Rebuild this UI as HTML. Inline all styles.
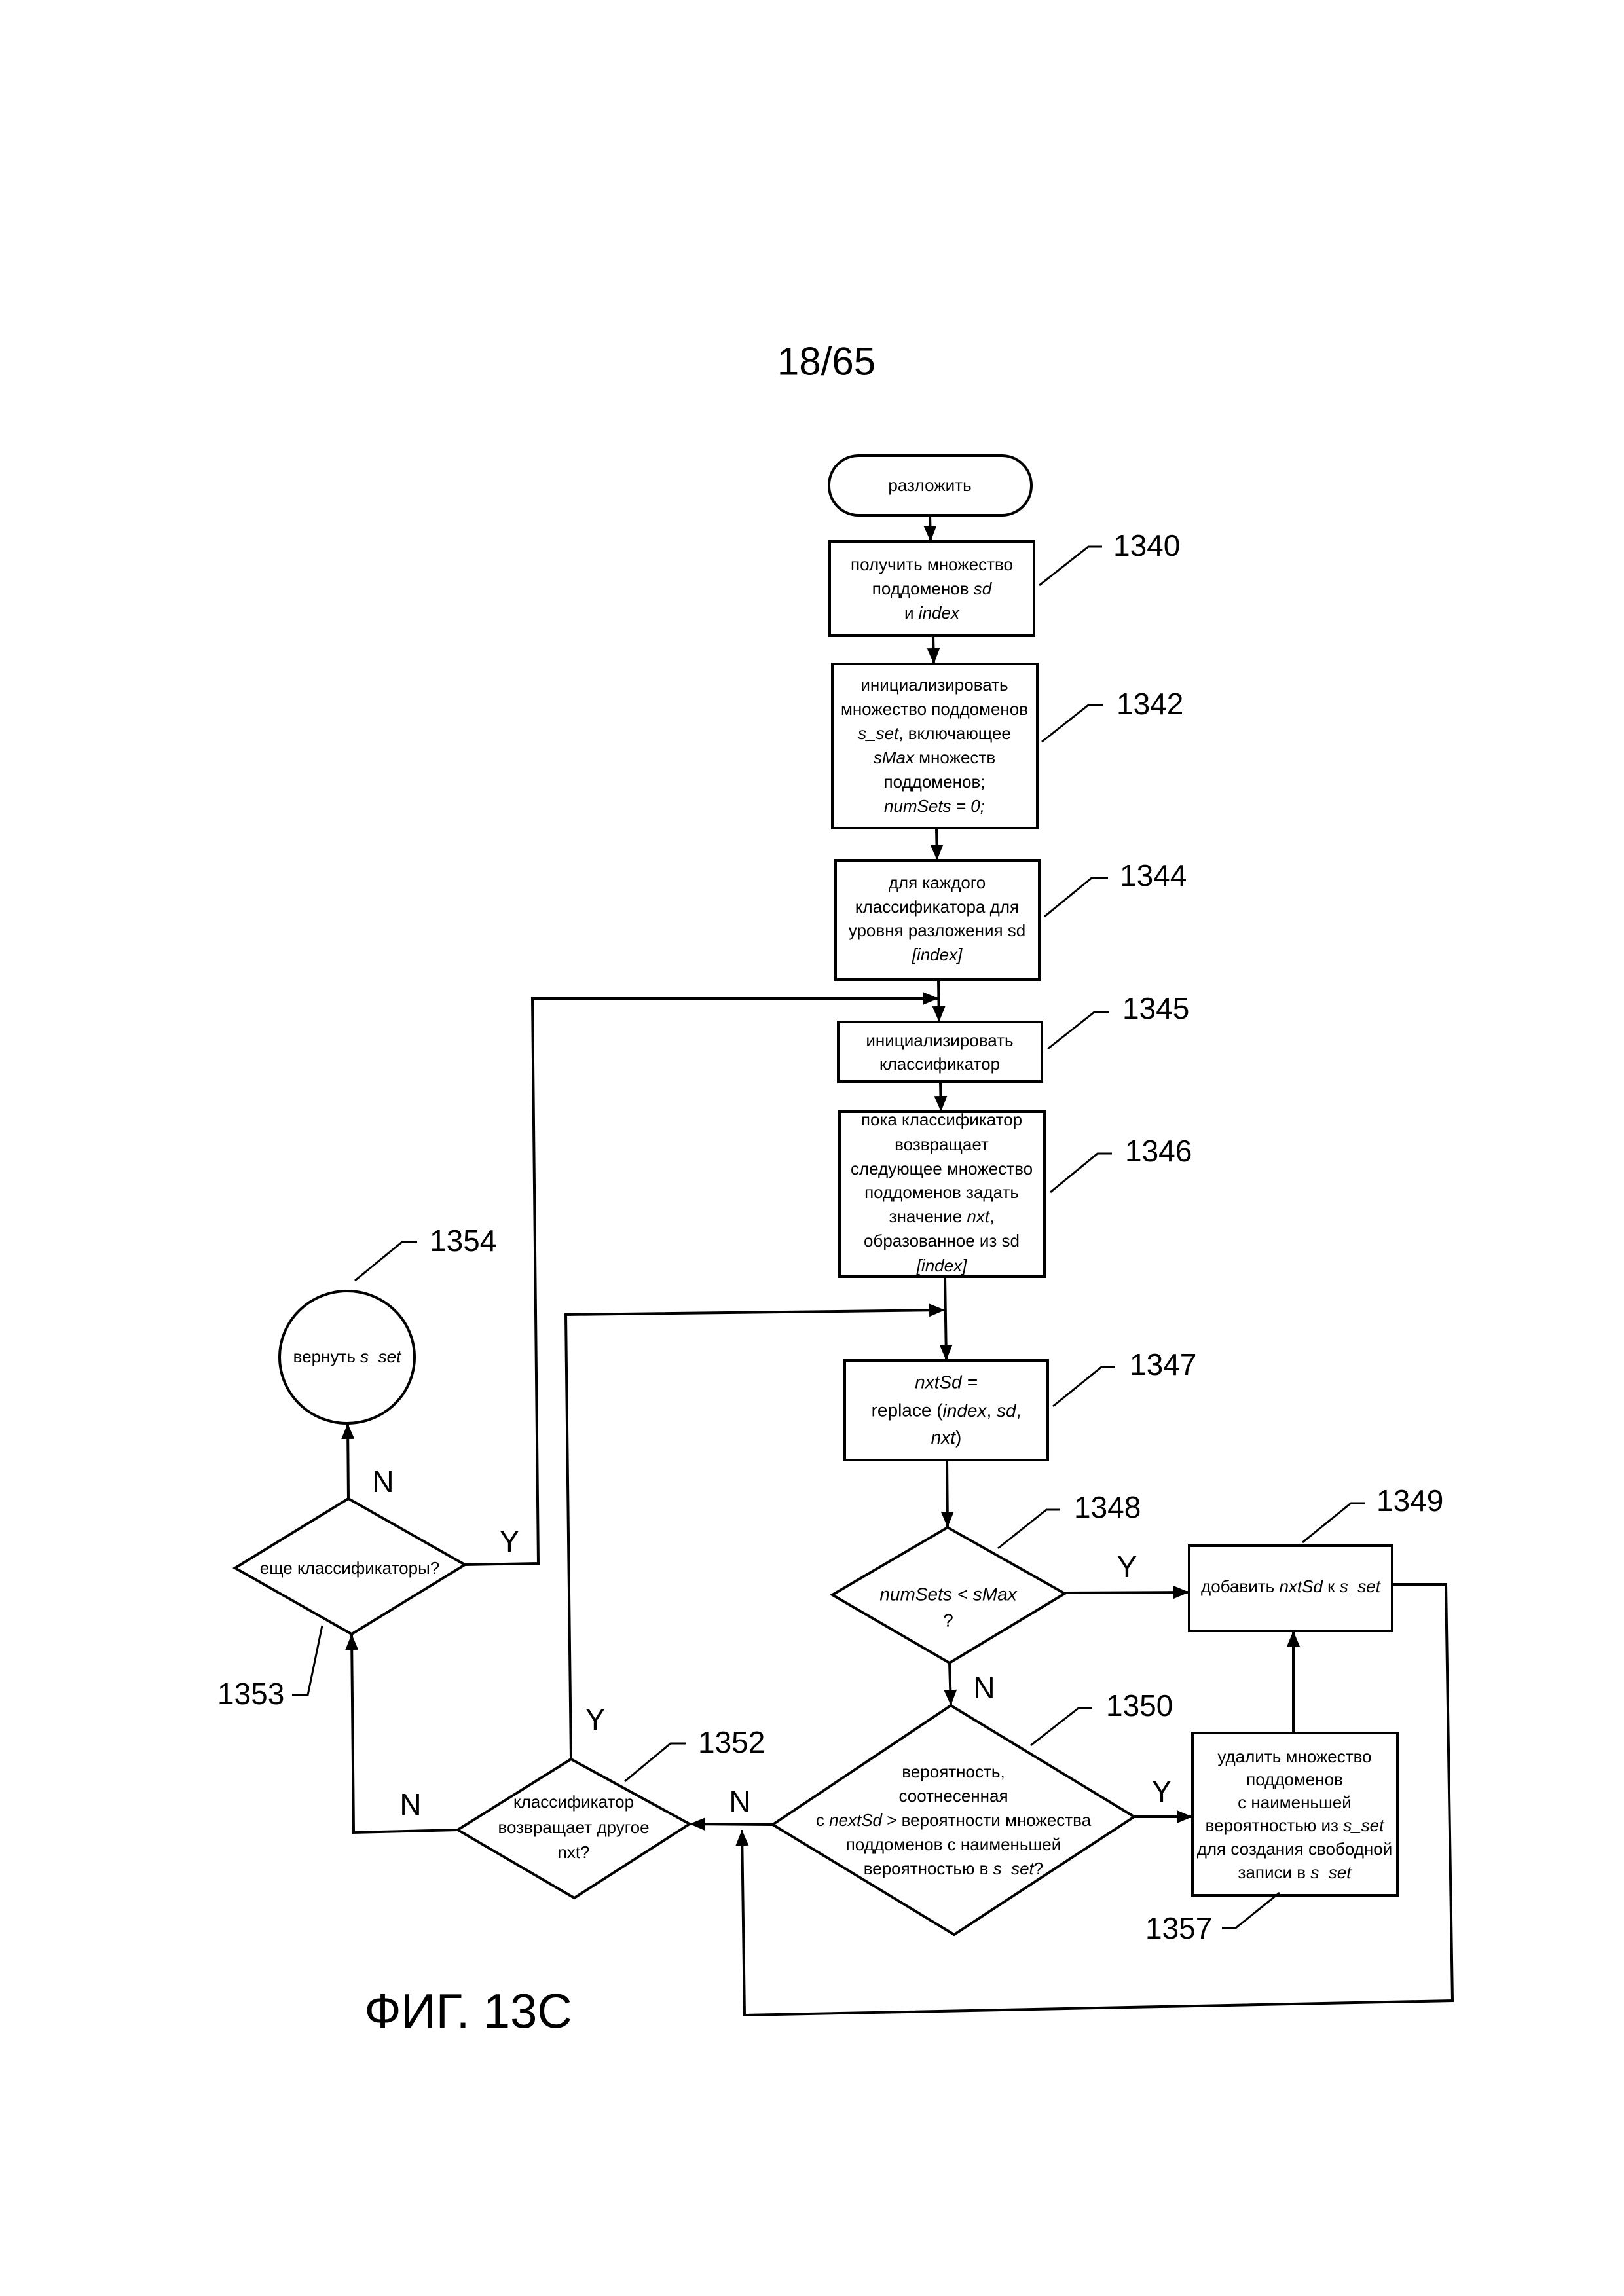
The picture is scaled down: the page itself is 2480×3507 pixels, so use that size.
<!DOCTYPE html>
<html><head><meta charset="utf-8"><style>
html,body{margin:0;padding:0;background:#fff;}
svg{display:block;}
text{font-family:"Liberation Sans",sans-serif;fill:#000;}
.t{font-size:26px;text-anchor:middle;dominant-baseline:central;}
.c{font-size:28px;text-anchor:middle;dominant-baseline:central;}
.n{font-size:46px;dominant-baseline:central;}
.yn{font-size:46px;text-anchor:middle;dominant-baseline:central;}
.i{font-style:italic;}
</style></head><body>
<svg width="2480" height="3507" viewBox="0 0 2480 3507" xmlns="http://www.w3.org/2000/svg">
<defs><marker id="a" markerWidth="24" markerHeight="20" refX="24" refY="10" orient="auto" markerUnits="userSpaceOnUse"><path d="M0,0 L24,10 L0,20 Z" fill="#000"/></marker></defs>
<g fill="none" stroke="#000" stroke-width="4">
<text x="1262" y="552" style="font-size:60px;text-anchor:middle;dominant-baseline:central;stroke:none">18/65</text>
<rect x="1266" y="696" width="309" height="91" rx="45"/>
<rect x="1267" y="827" width="312" height="144"/>
<rect x="1271" y="1014" width="313" height="251"/>
<rect x="1276" y="1314" width="311" height="182"/>
<rect x="1280" y="1561" width="311" height="91"/>
<rect x="1282" y="1698" width="313" height="252"/>
<rect x="1290" y="2078" width="310" height="152"/>
<polygon points="1271,2436 1447,2333 1626,2434 1450,2540"/>
<rect x="1816" y="2361" width="310" height="130"/>
<polygon points="1180,2787 1452,2605 1732,2775 1457,2955"/>
<rect x="1821" y="2647" width="313" height="248"/>
<polygon points="699,2795 872,2687 1053,2786 877,2899"/>
<polygon points="359,2395 532,2289 710,2390 537,2496"/>
<ellipse cx="530" cy="2073" rx="103" ry="101"/>
<!-- main column arrows -->
<line x1="1420" y1="787" x2="1421" y2="827" marker-end="url(#a)"/>
<line x1="1425" y1="971" x2="1426" y2="1014" marker-end="url(#a)"/>
<line x1="1430" y1="1265" x2="1431" y2="1314" marker-end="url(#a)"/>
<line x1="1433" y1="1496" x2="1434" y2="1561" marker-end="url(#a)"/>
<line x1="1436" y1="1652" x2="1437" y2="1698" marker-end="url(#a)"/>
<line x1="1443" y1="1950" x2="1445" y2="2078" marker-end="url(#a)"/>
<line x1="1446" y1="2230" x2="1447" y2="2333" marker-end="url(#a)"/>
<line x1="1450" y1="2540" x2="1452" y2="2605" marker-end="url(#a)"/>
<line x1="1626" y1="2433" x2="1816" y2="2432" marker-end="url(#a)"/>
<line x1="1732" y1="2775" x2="1821" y2="2775" marker-end="url(#a)"/>
<line x1="1975" y1="2647" x2="1975" y2="2491" marker-end="url(#a)"/>
<polyline points="2126,2420 2208,2420 2218,3056 1137,3078 1133,2795" marker-end="url(#a)"/>
<line x1="1180" y1="2787" x2="1053" y2="2786" marker-end="url(#a)"/>
<polyline points="872,2687 864,2008 1443,2001" marker-end="url(#a)"/>
<polyline points="699,2795 540,2799 537,2496" marker-end="url(#a)"/>
<line x1="532" y1="2289" x2="531" y2="2174" marker-end="url(#a)"/>
<polyline points="710,2390 822,2388 813,1525 1433,1525" marker-end="url(#a)"/>
<!-- leaders -->
<g stroke-width="3">
<polyline points="1587,894 1662,835 1683,835"/>
<polyline points="1591,1133 1662,1077 1685,1077"/>
<polyline points="1595,1400 1667,1341 1692,1341"/>
<polyline points="1600,1602 1671,1546 1694,1546"/>
<polyline points="1604,1821 1676,1762 1698,1762"/>
<polyline points="1608,2148 1682,2088 1703,2088"/>
<polyline points="1524,2365 1598,2306 1619,2306"/>
<polyline points="1989,2356 2063,2296 2084,2296"/>
<polyline points="1574,2666 1647,2609 1668,2609"/>
<polyline points="1866,2945 1887,2945 1954,2891"/>
<polyline points="954,2721 1024,2663 1047,2663"/>
<polyline points="542,1956 614,1897 637,1897"/>
<polyline points="446,2589 470,2589 492,2483"/>
</g>
</g>
<text class="t" x="1420" y="741">разложить</text>
<text class="t" x="1423" y="862">получить множество</text>
<text class="t" x="1423" y="899">поддоменов <tspan class="i">sd</tspan></text>
<text class="t" x="1423" y="936">и <tspan class="i">index</tspan></text>
<text class="t" x="1427" y="1046">инициализировать</text>
<text class="t" x="1427" y="1083">множество поддоменов</text>
<text class="t" x="1427" y="1120"><tspan class="i">s_set</tspan>, включающее</text>
<text class="t" x="1427" y="1157"><tspan class="i">sMax</tspan> множеств</text>
<text class="t" x="1427" y="1194">поддоменов;</text>
<text class="t" x="1427" y="1231" font-style="italic">numSets = 0;</text>
<text class="t" x="1431" y="1348">для каждого</text>
<text class="t" x="1431" y="1385">классификатора для</text>
<text class="t" x="1431" y="1421">уровня разложения sd</text>
<text class="t" x="1431" y="1458" font-style="italic">[index]</text>
<text class="t" x="1435" y="1589">инициализировать</text>
<text class="t" x="1435" y="1625">классификатор</text>
<text class="t" x="1438" y="1710">пока классификатор</text>
<text class="t" x="1438" y="1748">возвращает</text>
<text class="t" x="1438" y="1785">следующее множество</text>
<text class="t" x="1438" y="1821">поддоменов задать</text>
<text class="t" x="1438" y="1858">значение <tspan class="i">nxt</tspan>,</text>
<text class="t" x="1438" y="1895">образованное из sd</text>
<text class="t" x="1438" y="1933" font-style="italic">[index]</text>
<text class="c" x="1445" y="2111" font-style="italic">nxtSd =</text>
<text class="c" x="1445" y="2154">replace (<tspan class="i">index</tspan>, <tspan class="i">sd</tspan>,</text>
<text class="c" x="1445" y="2195"><tspan class="i">nxt</tspan>)</text>
<text class="c" x="1448" y="2435" font-style="italic">numSets &lt; sMax</text>
<text class="c" x="1448" y="2475">?</text>
<text class="t" x="1971" y="2423">добавить <tspan class="i">nxtSd</tspan> к <tspan class="i">s_set</tspan></text>
<text class="t" x="1456" y="2706">вероятность,</text>
<text class="t" x="1456" y="2743">соотнесенная</text>
<text class="t" x="1456" y="2780">с <tspan class="i">nextSd</tspan> &gt; вероятности множества</text>
<text class="t" x="1456" y="2817">поддоменов с наименьшей</text>
<text class="t" x="1456" y="2854">вероятностью в <tspan class="i">s_set</tspan>?</text>
<text class="t" x="1977" y="2683">удалить множество</text>
<text class="t" x="1977" y="2718">поддоменов</text>
<text class="t" x="1977" y="2753">с наименьшей</text>
<text class="t" x="1977" y="2788">вероятностью из <tspan class="i">s_set</tspan></text>
<text class="t" x="1977" y="2824">для создания свободной</text>
<text class="t" x="1977" y="2860">записи в <tspan class="i">s_set</tspan></text>
<text class="t" x="876" y="2752">классификатор</text>
<text class="t" x="876" y="2791">возвращает другое</text>
<text class="t" x="876" y="2829">nxt?</text>
<text class="t" x="534" y="2395">еще классификаторы?</text>
<text class="t" x="530" y="2072">вернуть <tspan class="i">s_set</tspan></text>
<text class="n" x="1700" y="833">1340</text>
<text class="n" x="1705" y="1075">1342</text>
<text class="n" x="1710" y="1337">1344</text>
<text class="n" x="1714" y="1540">1345</text>
<text class="n" x="1718" y="1758">1346</text>
<text class="n" x="1725" y="2084">1347</text>
<text class="n" x="1640" y="2302">1348</text>
<text class="n" x="2102" y="2292">1349</text>
<text class="n" x="1689" y="2605">1350</text>
<text class="n" x="1749" y="2945">1357</text>
<text class="n" x="1066" y="2661">1352</text>
<text class="n" x="656" y="1895">1354</text>
<text class="n" x="332" y="2587">1353</text>
<text class="yn" x="1721" y="2393">Y</text>
<text class="yn" x="1503" y="2578">N</text>
<text class="yn" x="1774" y="2736">Y</text>
<text class="yn" x="1130" y="2752">N</text>
<text class="yn" x="909" y="2626">Y</text>
<text class="yn" x="627" y="2756">N</text>
<text class="yn" x="778" y="2354">Y</text>
<text class="yn" x="585" y="2263">N</text>
<text x="715" y="3072" style="font-size:74px;text-anchor:middle;dominant-baseline:central">ФИГ. 13С</text>
</svg>
</body></html>
